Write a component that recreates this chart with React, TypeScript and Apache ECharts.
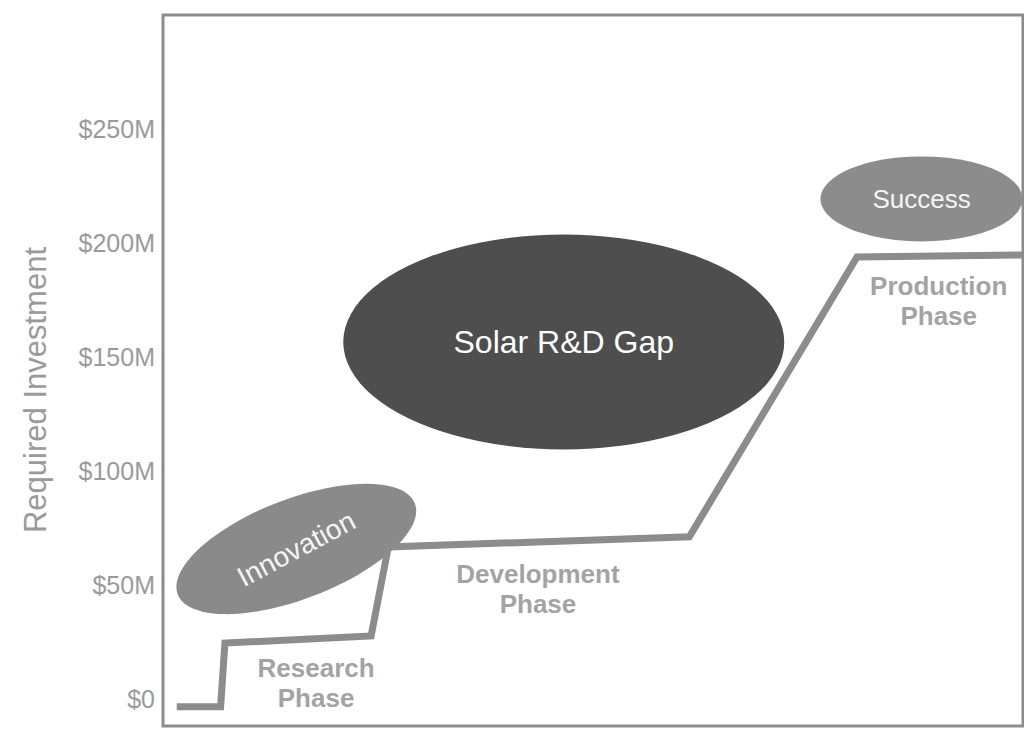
import React, { useEffect, useRef } from "react";
import * as echarts from "echarts";

// Investment path (x = progress along the innovation path 0..100, y = $M)
const pathX = [1.6, 6.7, 7.2, 24.2, 26.2, 61.2, 80.7, 100];
const pathY = [-3.6, -3.6, 24.4, 27.5, 66.6, 71, 193.8, 194.7];

const yTicks = [0, 50, 100, 150, 200, 250];
const yTitle = "Required Investment";

// Ellipse bubbles: name, center x, center y ($M)
const bubbleNames = ["Solar R&D Gap", "Innovation", "Success"];
const bubbleX = [46.6, 15.5, 88.2];
const bubbleY = [156.5, 65.7, 219.3];

// Phase labels
const phaseNames = ["Research\nPhase", "Development\nPhase", "Production\nPhase"];
const phaseX = [17.8, 43.6, 90.2];
const phaseY = [6.9, 48.1, 174.5];

export default function App() {
  const ref = useRef<HTMLDivElement>(null);
  useEffect(() => {
    if (!ref.current) return;
    const chart = echarts.init(ref.current, undefined, { renderer: "svg" });
    const font = "Liberation Sans, Arial, sans-serif";
    const bubbleStyles = [
      { size: [441, 215], rotate: 0, color: "#4e4e4e", fs: 32, lrot: 0, lc: "#ffffff" },
      { size: [254, 100], rotate: 21, color: "#8a8a8a", fs: 28, lrot: 28, lc: "#f4f4f4" },
      { size: [202, 85], rotate: 0, color: "#8c8c8c", fs: 26, lrot: 0, lc: "#f4f4f4" },
    ];
    chart.setOption({
      animation: false,
      backgroundColor: "#ffffff",
      grid: { left: 163, right: 1, top: 15, bottom: 8, show: true, borderColor: "#8c8c8c", borderWidth: 3, backgroundColor: "transparent" },
      graphic: [
        {
          type: "text",
          x: 35,
          y: 390,
          rotation: Math.PI / 2,
          style: {
            text: yTitle,
            fill: "#9a9a9a",
            fontSize: 31,
            fontFamily: font,
            textAlign: "center",
            textVerticalAlign: "middle",
          },
        },
      ],
      xAxis: {
        type: "value",
        min: 0,
        max: 100,
        show: false,
      },
      yAxis: {
        type: "value",
        min: -12,
        max: 300,
        axisLine: { show: false },
        axisTick: { show: false },
        splitLine: { show: false },
        axisLabel: {
          customValues: yTicks,
          formatter: (v: number) => (v === 0 ? "$0" : "$" + v + "M"),
          color: "#9a9a9a",
          fontSize: 25,
          margin: 8,
          fontFamily: font,
        },
      },
      series: [
        {
          type: "scatter",
          z: 1,
          data: bubbleNames.map((n, i) => ({
            name: n,
            value: [bubbleX[i], bubbleY[i]],
            symbolSize: bubbleStyles[i].size,
            symbolRotate: bubbleStyles[i].rotate,
            itemStyle: { color: bubbleStyles[i].color, opacity: 1 },
            label: {
              show: true,
              position: "inside",
              formatter: n,
              color: bubbleStyles[i].lc,
              fontSize: bubbleStyles[i].fs,
              rotate: bubbleStyles[i].lrot,
              fontFamily: font,
            },
          })),
          symbol: "circle",
          silent: true,
        },
        {
          type: "line",
          z: 2,
          data: pathX.map((x, i) => [x, pathY[i]]),
          showSymbol: false,
          symbol: "none",
          lineStyle: { color: "#8c8c8c", width: 7, join: "miter", cap: "butt" },
          silent: true,
        },
        {
          type: "scatter",
          z: 3,
          symbolSize: 0,
          data: phaseNames.map((n, i) => ({
            value: [phaseX[i], phaseY[i]],
            label: {
              show: true,
              position: "inside",
              formatter: n,
              color: "#8a8a8a",
              fontSize: 26,
              fontWeight: "bold",
              lineHeight: 30,
              align: "center",
              fontFamily: font,
            },
          })),
          silent: true,
        },
      ],
    });
    return () => chart.dispose();
  }, []);
  return <div ref={ref} style={{ width: 1024, height: 734, position: "absolute", left: 0, top: 0 }} />;
}
